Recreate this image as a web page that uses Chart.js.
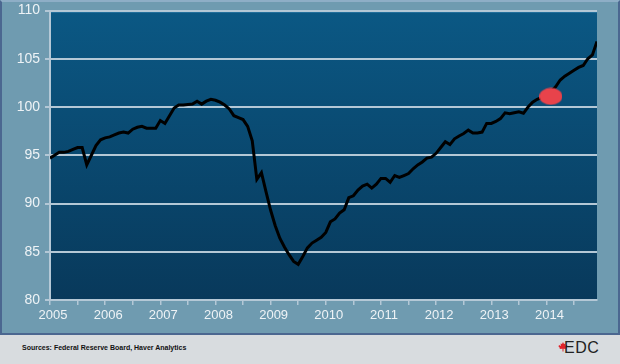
<!DOCTYPE html>
<html>
<head>
<meta charset="utf-8">
<script src="https://cdn.jsdelivr.net/npm/chart.js@4/dist/chart.umd.min.js"></script>
<style>
  body { margin: 0; width: 620px; height: 364px; background: #d8dcdf; position: relative; overflow: hidden;
         font-family: "Liberation Sans", Arial, sans-serif; }
  #panel { position: absolute; left: 0; top: 0; width: 616px; height: 331px; background: #6f9bb0;
           border: 2px solid #4b6790; border-top-color: #8eaec6; }
  #src { position: absolute; left: 22px; top: 344px; font-size: 7px; font-weight: bold; color: #111; white-space: nowrap; }
  #logo { position: absolute; left: 558px; top: 340px; height: 20px; white-space: nowrap; }
  #logo span { position: absolute; left: 6px; top: -1px; font-size: 16px; color: #222; letter-spacing: 0.5px; }
</style>
</head>
<body>
<div id="panel"><canvas id="myChart" width="616" height="331"></canvas></div>
<div id="src">Sources: Federal Reserve Board, Haver Analytics</div>
<div id="logo">
  <svg width="10" height="10" viewBox="0 0 10 10" style="position:absolute;left:0;top:2px">
    <polygon fill="#e0232b" points="5,0 6,2 7.5,1.5 7,4 9,3 9.5,4.5 8,6 8.5,7 5.5,6.8 5.5,9.5 4.5,9.5 4.5,6.8 1.5,7 2,6 0.5,4.5 1,3 3,4 2.5,1.5 4,2"/>
  </svg>
  <span>EDC</span>
</div>
<script>
'use strict';

// industrial production index, monthly Jan 2005 - Dec 2014
var years = [2005, 2006, 2007, 2008, 2009, 2010, 2011, 2012, 2013, 2014];
var yTicks = [80, 85, 90, 95, 100, 105, 110];
var production = [
  94.7, 95.0, 95.3, 95.3, 95.4, 95.6, 95.8, 95.8, 94.0, 95.0, 96.0, 96.6,
  96.8, 96.9, 97.1, 97.3, 97.4, 97.3, 97.7, 97.9, 98.0, 97.8, 97.8, 97.8,
  98.6, 98.3, 99.1, 99.9, 100.2, 100.2, 100.25, 100.3, 100.6, 100.3, 100.6, 100.8,
  100.7, 100.5, 100.2, 99.8, 99.1, 98.9, 98.7, 98.0, 96.5, 92.5, 93.2, 91.2,
  89.3, 87.7, 86.4, 85.5, 84.7, 84.0, 83.7, 84.5, 85.4, 85.9, 86.2, 86.5,
  87.0, 88.1, 88.4, 89.0, 89.35, 90.6, 90.8, 91.4, 91.8, 92.0, 91.6, 92.0,
  92.6, 92.6, 92.2, 92.9, 92.7, 92.9, 93.1, 93.6, 94.0, 94.3, 94.7, 94.8,
  95.2, 95.8, 96.4, 96.1, 96.7, 97.0, 97.25, 97.6, 97.3, 97.3, 97.4, 98.3,
  98.3, 98.5, 98.8, 99.4, 99.3, 99.4, 99.5, 99.35, 100.0, 100.5, 100.8, 101.0,
  101.3, 101.6, 102.1, 102.8, 103.2, 103.5, 103.8, 104.1, 104.3, 105.0, 105.4, 106.8
];
// red highlight marker
var markerX = [2014.08];
var markerY = [101.1];

var linePoints = [];
for (var i = 0; i < production.length; i++) {
  linePoints.push({ x: years[0] + i / 12, y: production[i] });
}
var markerPoints = [];
for (var j = 0; j < markerX.length; j++) {
  markerPoints.push({ x: markerX[j], y: markerY[j] });
}

// ellipse shaped marker
var blob = document.createElement('canvas');
blob.width = 23; blob.height = 18;
var bctx = blob.getContext('2d');
bctx.fillStyle = '#e8434b';
bctx.beginPath();
bctx.ellipse(11.5, 9, 11.5, 8.5, 0, 0, Math.PI * 2);
bctx.fill();

var plotBackground = {
  id: 'plotBackground',
  beforeDraw: function (chart) {
    var a = chart.chartArea, c = chart.ctx;
    var g = c.createLinearGradient(0, a.top, 0, a.bottom);
    g.addColorStop(0, '#0b5884');
    g.addColorStop(1, '#08395b');
    c.save();
    c.fillStyle = g;
    c.fillRect(a.left, a.top, a.right - a.left, a.bottom - a.top);
    c.fillStyle = '#3a86b4';
    c.fillRect(a.left, a.top, a.right - a.left, 2);
    c.restore();
  }
};

var lightLine = '#b4c8d6';

var ctx = document.getElementById('myChart').getContext('2d');
new Chart(ctx, {
  type: 'scatter',
  data: {
    datasets: [{
      data: markerPoints,
      pointStyle: blob,
      order: 0
    }, {
      data: linePoints,
      showLine: true,
      borderColor: '#000',
      borderWidth: 3,
      pointRadius: 0,
      tension: 0,
      order: 1
    }]
  },
  options: {
    responsive: false,
    animation: false,
    layout: { padding: { top: 8, right: 21, left: 0, bottom: 0 } },
    plugins: { legend: { display: false }, tooltip: { enabled: false } },
    scales: {
      x: {
        type: 'linear',
        min: years[0],
        max: years[0] + (production.length - 1) / 12,
        afterBuildTicks: function (scale) {
          var t = [];
          for (var k = 0; k < years.length; k++) {
            t.push({ value: years[k] });
            t.push({ value: years[k] + 0.5 });
          }
          scale.ticks = t;
        },
        afterFit: function (scale) { scale.height = 33; },
        grid: { drawOnChartArea: false, color: lightLine, lineWidth: 1.5, tickLength: 5 },
        border: { color: lightLine, width: 2 },
        ticks: {
          color: '#eef3f6',
          font: { family: 'Liberation Sans', size: 13 },
          padding: 3,
          labelOffset: 3,
          maxRotation: 0,
          autoSkip: false,
          callback: function (v) { return years.indexOf(v) >= 0 ? String(v) : ''; }
        }
      },
      y: {
        min: yTicks[0],
        max: yTicks[yTicks.length - 1],
        afterBuildTicks: function (scale) {
          scale.ticks = yTicks.map(function (v) { return { value: v }; });
        },
        afterFit: function (scale) { scale.width = 48; },
        grid: { color: lightLine, lineWidth: 2, tickLength: 5 },
        border: { color: lightLine, width: 2 },
        ticks: {
          color: '#eef3f6',
          font: { family: 'Liberation Sans', size: 14, lineHeight: 0.5 },
          padding: 5
        }
      }
    }
  },
  plugins: [plotBackground]
});
</script>
</body>
</html>
